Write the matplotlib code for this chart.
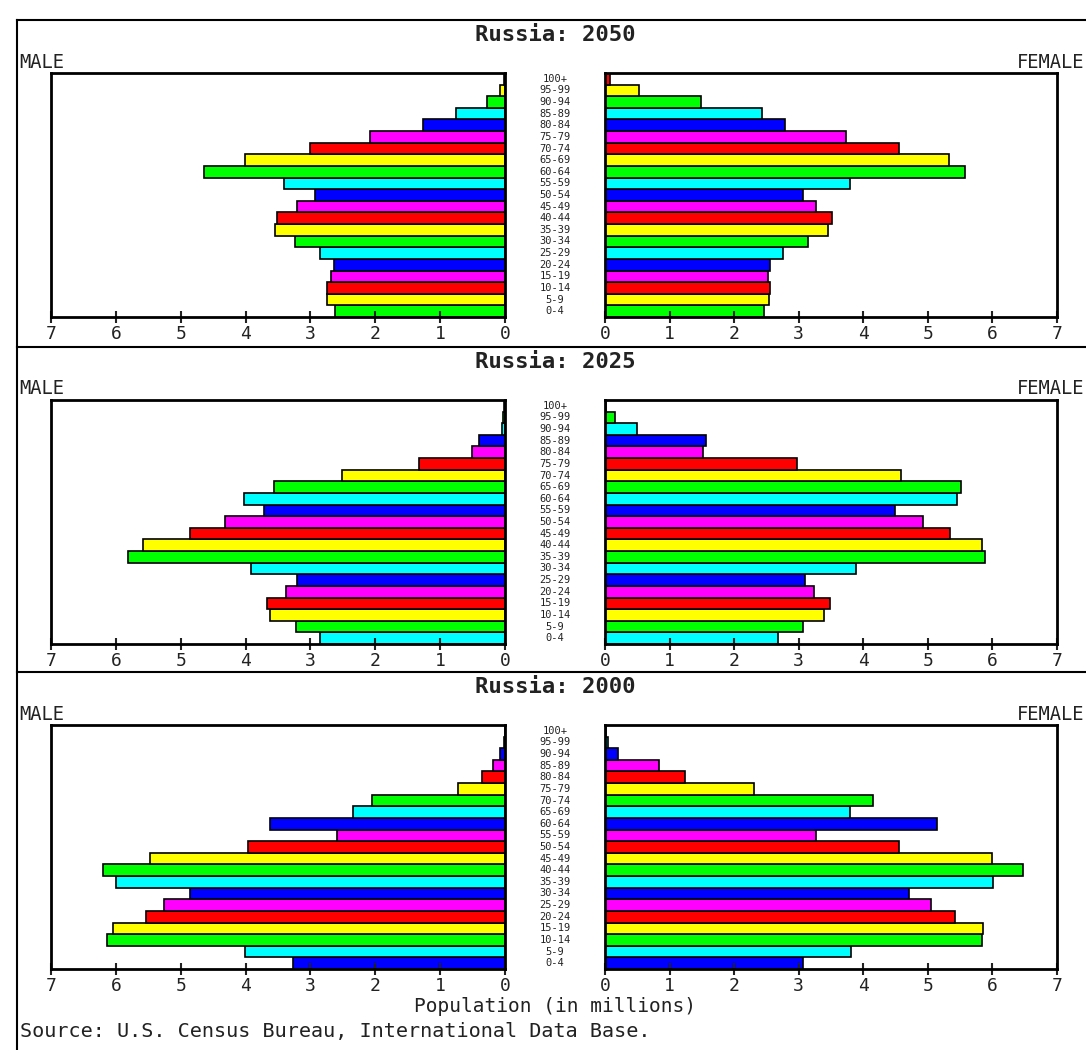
import numpy as np
import matplotlib
matplotlib.use("Agg")
import matplotlib.pyplot as plt
from matplotlib.lines import Line2D

# ---- data (millions), age groups bottom -> top ----
ages = ["0-4", "5-9", "10-14", "15-19", "20-24", "25-29", "30-34", "35-39",
        "40-44", "45-49", "50-54", "55-59", "60-64", "65-69", "70-74",
        "75-79", "80-84", "85-89", "90-94", "95-99", "100+"]

years = ["2050", "2025", "2000"]

male_2050 = [2.62, 2.75, 2.75, 2.69, 2.64, 2.85, 3.24, 3.55, 3.52, 3.20, 2.93,
             3.40, 4.64, 4.01, 3.00, 2.08, 1.27, 0.75, 0.27, 0.08, 0.02]
female_2050 = [2.47, 2.54, 2.55, 2.52, 2.56, 2.76, 3.14, 3.46, 3.51, 3.26, 3.06,
               3.80, 5.58, 5.33, 4.56, 3.73, 2.78, 2.43, 1.48, 0.53, 0.07]

male_2025 = [2.85, 3.23, 3.63, 3.67, 3.37, 3.21, 3.92, 5.81, 5.58, 4.86, 4.32,
             3.71, 4.03, 3.56, 2.51, 1.32, 0.51, 0.40, 0.05, 0.03, 0.01]
female_2025 = [2.68, 3.06, 3.39, 3.48, 3.23, 3.10, 3.89, 5.88, 5.84, 5.34, 4.92,
               4.49, 5.45, 5.51, 4.59, 2.98, 1.52, 1.57, 0.49, 0.16, 0.02]

male_2000 = [3.27, 4.01, 6.14, 6.04, 5.54, 5.26, 4.86, 6.00, 6.20, 5.47, 3.96,
             2.59, 3.63, 2.34, 2.05, 0.72, 0.35, 0.19, 0.08, 0.02, 0.00]
female_2000 = [3.07, 3.81, 5.84, 5.86, 5.42, 5.05, 4.71, 6.01, 6.48, 5.99, 4.55,
               3.26, 5.14, 3.80, 4.15, 2.30, 1.24, 0.83, 0.20, 0.05, 0.01]

males = [male_2050, male_2025, male_2000]
females = [female_2050, female_2025, female_2000]

xticks = [0, 1, 2, 3, 4, 5, 6, 7]

# ---- style ----
CYCLE = ["#00ff00", "#ffff00", "#ff0000", "#ff00ff", "#0000ff", "#00ffff"]
OFFSETS = [0, 5, 4]          # colour follows birth cohort
MONO = "DejaVu Sans Mono"
INK = "#222222"
W, H = 1086, 1050

plt.rcParams.update({
    "font.family": MONO,
    "axes.linewidth": 2,
})

fig = plt.figure(figsize=(W / 100, H / 100), dpi=100)
fig.patch.set_facecolor("white")

panel_tops = [73, 400, 725]
panel_h = 244
y = np.arange(len(ages))


def fx(px):
    return px / W


def fy(py):
    return 1 - py / H


for k, year in enumerate(years):
    top = panel_tops[k]
    bot = top + panel_h
    colors = [CYCLE[(i + OFFSETS[k]) % 6] for i in range(len(ages))]

    axl = fig.add_axes([fx(51), fy(bot), fx(454), panel_h / H])
    axr = fig.add_axes([fx(605), fy(bot), fx(452), panel_h / H])

    axl.barh(y, males[k], height=1.0, color=colors,
             edgecolor="black", linewidth=1.2)
    axr.barh(y, females[k], height=1.0, color=colors,
             edgecolor="black", linewidth=1.2)

    axl.set_xlim(7, 0)
    axr.set_xlim(0, 7)
    for ax in (axl, axr):
        ax.set_ylim(-0.5, len(ages) - 0.5)
        ax.set_yticks([])
        ax.set_xticks(xticks)
        ax.set_xticklabels([str(t) for t in xticks])
        ax.tick_params(axis="x", direction="inout", length=9, width=1.5,
                       labelsize=13, pad=1, colors=INK)
        for s in ax.spines.values():
            s.set_color("black")

    # age labels between the halves
    tr = axl.get_yaxis_transform()
    for i, a in enumerate(ages):
        axl.text(1.11, i, a, transform=tr, ha="center", va="center",
                 fontsize=7.5, color=INK, clip_on=False)

    fig.text(fx(555), fy(top - 38), f"Russia: {year}", ha="center",
             va="center", fontsize=16, fontweight="bold", color=INK)
    fig.text(fx(19), fy(top - 11), "MALE", ha="left", va="center",
             fontsize=13.5, color=INK)
    fig.text(fx(1084), fy(top - 11), "FEMALE", ha="right", va="center",
             fontsize=13.5, color=INK)

# frame lines
fig.add_artist(Line2D([fx(17), 1], [fy(20), fy(20)], color="black", lw=1.5))
fig.add_artist(Line2D([fx(17), fx(17)], [0, fy(20)], color="black", lw=1.5))
for sep in (347, 672):
    fig.add_artist(Line2D([fx(17), 1], [fy(sep), fy(sep)],
                          color="black", lw=1.5))

fig.text(fx(555), fy(1006), "Population (in millions)", ha="center",
         va="center", fontsize=14, color=INK)
fig.text(fx(20), fy(1032), "Source: U.S. Census Bureau, International Data Base.",
         ha="left", va="center", fontsize=14.5, color=INK)

fig.savefig("out.png", dpi=100, facecolor="white")
